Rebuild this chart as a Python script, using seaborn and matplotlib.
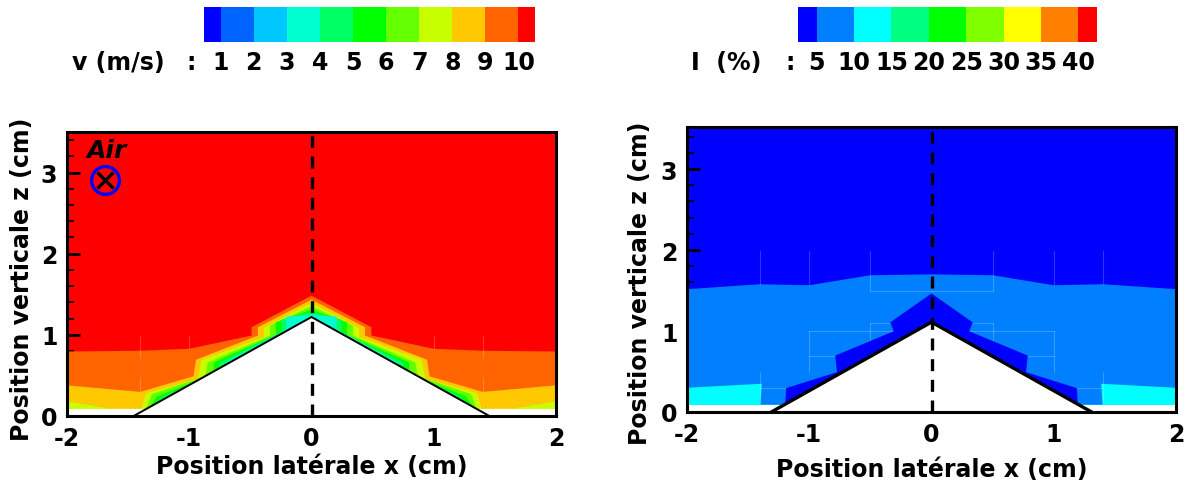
import matplotlib
matplotlib.use("Agg")
import matplotlib.pyplot as plt
from matplotlib.colors import ListedColormap
from matplotlib.ticker import MultipleLocator
import numpy as np
import seaborn as sns

W, H = 1186, 481

# ── Colour scales ──────────────────────────────────────────────────────
v_colors = ["#0000ff", "#0064ff", "#00c8ff", "#00ffd0", "#00ff64", "#00ff00",
            "#64ff00", "#c8ff00", "#ffc800", "#ff6400", "#ff0000"]
v_ticks = ["1", "2", "3", "4", "5", "6", "7", "8", "9", "10"]
i_colors = ["#0000ff", "#0080ff", "#00ffff", "#00ff80", "#00ff00",
            "#80ff00", "#ffff00", "#ff8000", "#ff0000"]
i_ticks = ["5", "10", "15", "20", "25", "30", "35", "40"]

# ── Left panel: velocity contour levels, left half, mirrored at x=0 ────
v_orange_x = [-2, -1.40, -1.0, -0.49, -0.49, 0]
v_orange_z = [0.795, 0.804, 0.828, 0.992, 1.094, 1.483]
v_yellow_x = [-2, -1.40, -0.966, -0.945, -0.438, -0.438, 0]
v_yellow_z = [0.378, 0.297, 0.489, 0.693, 0.992, 1.094, 1.433]
v_ygreen_x = [-2, -1.65, -1.39, -1.353, -0.93, -0.898, -0.389, -0.389, 0]
v_ygreen_z = [0.178, 0.092, 0.092, 0.28, 0.46, 0.69, 0.975, 1.086, 1.392]
v_lime_x = [-1.36, -1.306, -0.87, -0.849, -0.34, -0.34, 0]
v_lime_z = [0.05, 0.27, 0.49, 0.66, 0.99, 1.115, 1.352]
v_green_x = [-1.33, -1.265, -0.80, -0.798, -0.292, -0.292, 0]
v_green_z = [0.09, 0.24, 0.52, 0.66, 1.0, 1.155, 1.31]
v_spring_x = [-1.31, -1.225, -0.76, -0.749, -0.245, -0.245, 0]
v_spring_z = [0.09, 0.23, 0.56, 0.66, 1.03, 1.188, 1.28]
v_aqua_x = [-1.29, -1.184, -0.71, -0.702, -0.205, -0.205, 0]
v_aqua_z = [0.09, 0.22, 0.60, 0.66, 1.07, 1.225, 1.245]
v_wedge_foot = 1.455
v_wedge_peak = 1.22
v_data_floor = 0.09

# ── Right panel: intensity contour levels ──────────────────────────────
i_light_x = [-2, -1.40, -1.0, -0.50, 0]
i_light_z = [1.517, 1.578, 1.565, 1.689, 1.70]
i_cyan_x = [-2, -1.388, -1.40]
i_cyan_z = [0.299, 0.349, 0.09]
i_blue_x = [-1.197, -1.188, -0.773, -0.787, -0.309, -0.337, 0]
i_blue_z = [0.102, 0.295, 0.492, 0.697, 0.997, 1.107, 1.464]
i_wedge_foot = 1.31
i_wedge_peak = 1.11
i_data_floor = 0.09

# faint mesh lines: (x0, z0, x1, z1) on the left half
v_mesh = [(-1.40, 0.71, -1.40, 0.99), (-1.0, 0.83, -1.0, 0.99),
          (-1.40, 0.30, -1.40, 0.48)]
i_mesh = [(-1.40, 1.58, -1.40, 1.99), (-1.0, 1.57, -1.0, 1.99),
          (-0.5, 1.50, -0.5, 1.99), (-0.5, 1.496, 0, 1.496),
          (-1.0, 0.996, -0.31, 0.996), (-1.0, 0.696, -0.79, 0.696),
          (-1.0, 0.49, -1.0, 0.996), (-0.5, 0.70, -0.5, 1.095),
          (-0.5, 1.095, -0.34, 1.095), (-1.40, 0.295, -1.19, 0.295),
          (-1.40, 0.09, -1.40, 0.50)]

sns.set_style("ticks")
plt.rcParams["font.family"] = ["DejaVu Sans"]
plt.rcParams["font.weight"] = "bold"
plt.rcParams["axes.unicode_minus"] = False
plt.rcParams["text.color"] = "black"
plt.rcParams["axes.labelcolor"] = "black"
plt.rcParams["axes.edgecolor"] = "black"
plt.rcParams["xtick.color"] = "black"
plt.rcParams["ytick.color"] = "black"

fig = plt.figure(figsize=(W / 100, H / 100), dpi=100)


def px_axes(x0, y0, x1, y1):
    return fig.add_axes([x0 / W, 1 - y1 / H, (x1 - x0) / W, (y1 - y0) / H])


def colour_bar(box, colors, ticks):
    ax = px_axes(*box)
    # half cell at each end, full cells between
    cells = [0] + [c for c in range(1, len(colors) - 1) for _ in (0, 1)] + [len(colors) - 1]
    sns.heatmap([cells], ax=ax, cmap=ListedColormap(colors), cbar=False,
                vmin=-0.5, vmax=len(colors) - 0.5, linewidths=0)
    ax.set_yticks([])
    ax.set_xticks(np.arange(1, len(cells), 2))
    ax.set_xticklabels(ticks, fontsize=17, fontweight="bold", rotation=0)
    ax.tick_params(axis="x", length=0, pad=6)
    return ax


def mirrored(ax, xs, zs, color, zorder=2):
    px = [xs[0]] + list(xs) + [-v for v in reversed(xs)] + [-xs[0]]
    pz = [0] + list(zs) + list(reversed(zs)) + [0]
    ax.fill(px, pz, color=color, lw=0, zorder=zorder)


def panel(box, ymax, base, levels, foot, peak, floor, mesh, lw_line, xlab_y, ylab_x, ylab_y):
    ax = px_axes(*box)
    ax.set_facecolor(base)
    for xs, zs, color in levels:
        mirrored(ax, xs, zs, color)
    for x0, z0, x1, z1 in mesh:
        for s in (1, -1):
            ax.plot([s * x0, s * x1], [z0, z1], color="white", alpha=0.2, lw=0.8, zorder=3)
    # white obstacle and the strip under the mesh
    ax.fill([-2, -2, 2, 2], [0, floor, floor, 0], color="white", lw=0, zorder=4)
    ax.fill([-foot, 0, foot], [0, peak, 0], color="white", lw=0, zorder=4)
    ax.plot([-foot, 0, foot], [0, peak, 0], color="black", lw=lw_line, zorder=5,
            solid_joinstyle="miter")
    ax.plot([0, 0], [0, ymax], color="black", lw=2.4, ls=(0, (3.6, 2.6)), zorder=6)
    ax.set_xlim(-2, 2)
    ax.set_ylim(0, ymax)
    ax.xaxis.set_major_locator(MultipleLocator(1))
    ax.xaxis.set_minor_locator(MultipleLocator(0.25))
    ax.yaxis.set_major_locator(MultipleLocator(1))
    ax.yaxis.set_minor_locator(MultipleLocator(0.2))
    ax.tick_params(which="major", direction="in", length=9, width=2, zorder=7,
                   labelsize=17, pad=7, top=False, right=False)
    ax.tick_params(which="minor", direction="in", length=5, width=1.2,
                   top=False, right=False)
    xl = ax.set_xlabel("Position latérale x (cm)", fontsize=17, fontweight="bold", va="center")
    yl = ax.set_ylabel("Position verticale z (cm)", fontsize=17, fontweight="bold", va="center")
    ax.xaxis.set_label_coords(0.5, xlab_y)
    ax.yaxis.set_label_coords(ylab_x, ylab_y)
    for s in ax.spines.values():
        s.set_linewidth(2.2)
        s.set_zorder(8)
    return ax


colour_bar((204, 8, 535, 43), v_colors, v_ticks)
colour_bar((798, 8, 1097, 43), i_colors, i_ticks)
fig.text(72 / W, 1 - 63 / H, "v (m/s)", fontsize=17, fontweight="bold", va="center")
fig.text(186 / W, 1 - 63 / H, ":", fontsize=17, fontweight="bold", va="center")
fig.text(691 / W, 1 - 63 / H, "I  (%)", fontsize=17, fontweight="bold", va="center")
fig.text(785 / W, 1 - 63 / H, ":", fontsize=17, fontweight="bold", va="center")

v_levels = [(v_orange_x, v_orange_z, v_colors[9]), (v_yellow_x, v_yellow_z, v_colors[8]),
            (v_ygreen_x, v_ygreen_z, v_colors[7]), (v_lime_x, v_lime_z, v_colors[6]),
            (v_green_x, v_green_z, v_colors[5]), (v_spring_x, v_spring_z, v_colors[4]),
            (v_aqua_x, v_aqua_z, v_colors[3])]
ax1 = panel((67, 133, 556, 417), 3.5, v_colors[10], v_levels,
            v_wedge_foot, v_wedge_peak, v_data_floor, v_mesh, 1.4, -0.176, -0.092, 0.486)

i_levels = [(i_light_x, i_light_z, i_colors[1]), (i_cyan_x, i_cyan_z, i_colors[2])]
ax2 = panel((687, 128, 1176, 413), 3.52, i_colors[0], i_levels,
            i_wedge_foot, i_wedge_peak, i_data_floor, i_mesh, 2.4, -0.2, -0.096, 0.456)
# the dark wedge sits on top of the light band, under the obstacle
mirrored(ax2, i_blue_x, i_blue_z, i_colors[0], zorder=3)

# air-flow marker
ax1.plot([-1.687], [2.914], marker="o", ms=20, mfc="none", mec="#0000ff", mew=2.4, zorder=7)
ax1.plot([-1.687], [2.914], marker="x", ms=12, mec="black", mew=2.4, zorder=7)
ax1.text(-1.675, 3.28, "Air", fontsize=18, fontweight="bold", style="italic",
         ha="center", va="center", zorder=7)

fig.savefig("out.png", dpi=100)
